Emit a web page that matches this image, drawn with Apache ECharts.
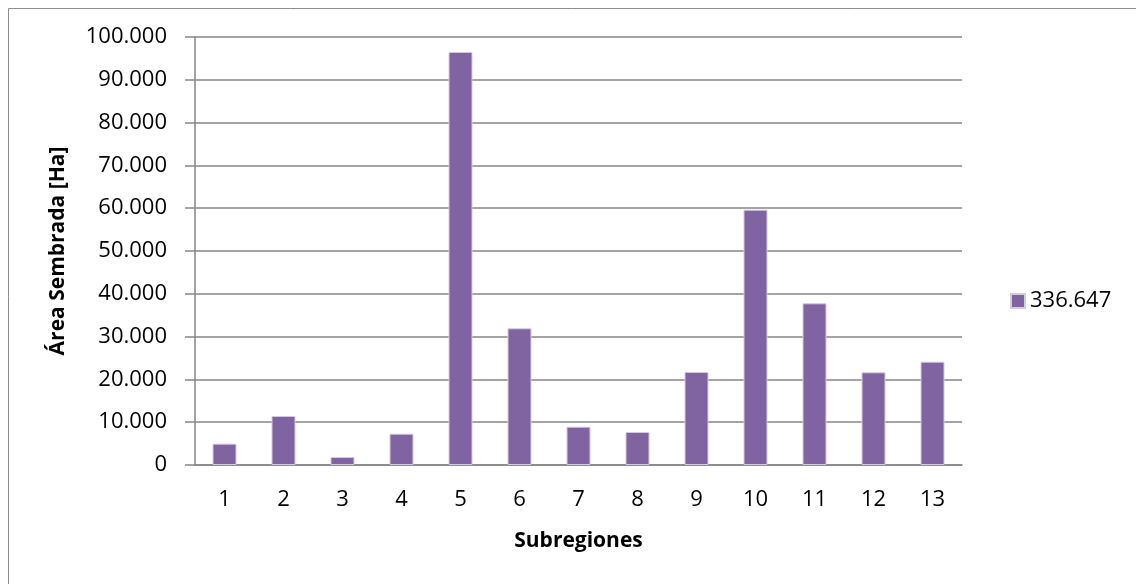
<!DOCTYPE html>
<html lang="es">
<head>
    <meta charset="utf-8">
    <title>Área Sembrada por Subregiones</title>
    <script src="https://cdn.jsdelivr.net/npm/echarts@6/dist/echarts.min.js"></script>
    <style>
    html, body { margin: 0; padding: 0; background: #fff; }
    #chart { width: 1136px; height: 584px; }
    </style>
</head>
<body>
    <div id="chart"></div>
    <script>
    // datos
    var subregiones = ['1', '2', '3', '4', '5', '6', '7', '8', '9', '10', '11', '12', '13'];
    var areaSembrada = [4980, 11450, 1870, 7310, 96500, 31940, 8950, 7710, 21730, 59650, 37780, 21660, 24140];
    var serieNombre = '336.647';

    var fuente = '"Open Sans", "Noto Sans", sans-serif';

    // 10000 -> "10.000"
    function miles(v) {
        return String(v).replace(/\B(?=(\d{3})+(?!\d))/g, '.');
    }

    var chart = echarts.init(document.getElementById('chart'), null, { renderer: 'canvas' });

    chart.setOption({
        animation: false,
        textStyle: { fontFamily: fuente },
        graphic: [{
            type: 'rect',
            shape: { x: 8.5, y: 8.5, width: 1140, height: 600 },
            style: { fill: 'none', stroke: '#8c8c8c', lineWidth: 1 },
            silent: true
        }],
        grid: { left: 195, right: 174, top: 37, bottom: 119 },
        legend: {
            left: 1005,
            top: 285,
            itemWidth: 14,
            itemHeight: 14,
            itemGap: 6,
            textStyle: { fontFamily: fuente, fontSize: 22, color: '#000' },
            data: [{ name: serieNombre, icon: 'rect' }]
        },
        xAxis: {
            type: 'category',
            data: subregiones,
            name: 'Subregiones',
            nameLocation: 'middle',
            nameGap: 66,
            nameTextStyle: { fontFamily: fuente, fontSize: 21, fontWeight: 'bold', color: '#000' },
            axisLine: { lineStyle: { color: '#868686', width: 1.5 } },
            axisTick: { show: false },
            axisLabel: { margin: 24, fontSize: 22, color: '#000', fontFamily: fuente }
        },
        yAxis: {
            type: 'value',
            min: 0,
            max: 100000,
            interval: 10000,
            name: 'Área Sembrada [Ha]',
            nameLocation: 'middle',
            nameGap: 126,
            nameTextStyle: { fontFamily: fuente, fontSize: 21, fontWeight: 'bold', color: '#000' },
            axisLine: { show: true, lineStyle: { color: '#868686', width: 1.5 } },
            axisTick: { show: true, length: 10, lineStyle: { color: '#868686', width: 1.5 } },
            axisLabel: { margin: 28, fontSize: 22, color: '#000', fontFamily: fuente, formatter: miles },
            splitLine: { lineStyle: { color: '#868686', width: 1.5 } }
        },
        series: [{
            name: serieNombre,
            type: 'bar',
            data: areaSembrada,
            barWidth: 24,
            itemStyle: { color: '#8064A2', borderColor: '#d4cae3', borderWidth: 1 }
        }]
    });
    </script>
</body>
</html>
